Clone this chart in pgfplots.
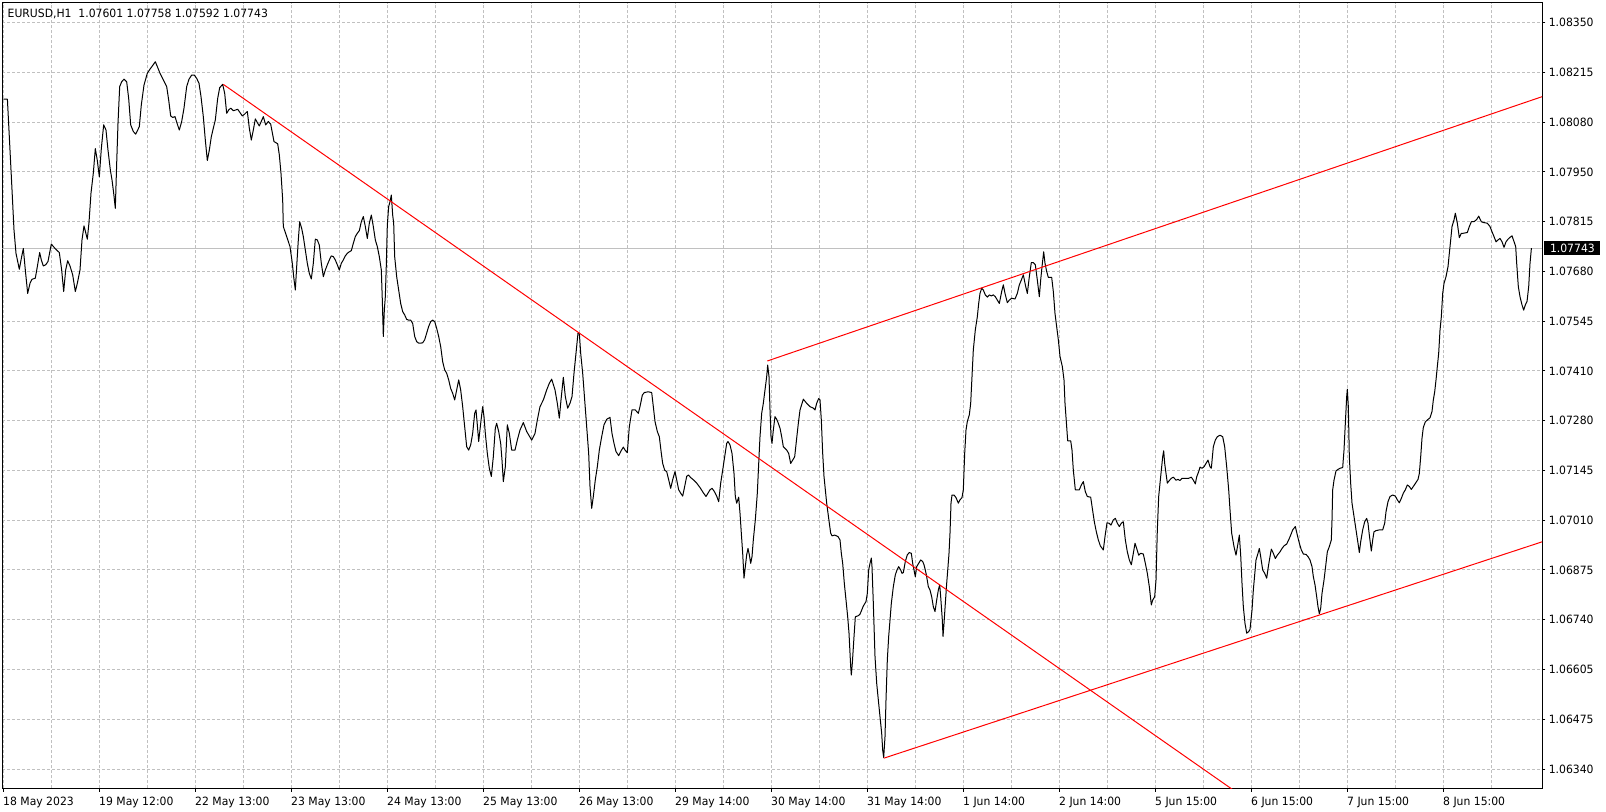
\documentclass[border=0pt]{standalone}
\usepackage{fontspec}
\setmainfont[FakeStretch=0.95]{DejaVu Sans}
\usepackage{pgfplots}
\pgfplotsset{compat=1.18}
\definecolor{gridgray}{RGB}{192,192,192}
\definecolor{pricegray}{RGB}{192,192,192}
\definecolor{mtred}{RGB}{255,0,0}
\begin{document}
\fontsize{5.7pt}{6.8pt}\selectfont
\begin{tikzpicture}
\path[use as bounding box] (-1.2pt,-11.75pt) rectangle (801.8pt,394.25pt);
\begin{axis}[
  at={(0,0)}, anchor=south west,
  scale only axis,
  width=769.9pt, height=392.9pt,
  xmin=-0.25, xmax=384.7,
  ymin=1.062875, ymax=1.08404,
  axis line style={line width=0.6pt, black},
  xtick={0,24,...,360},
  xticklabels={18 May 2023,19 May 12:00,22 May 13:00,23 May 13:00,24 May 13:00,25 May 13:00,26 May 13:00,29 May 14:00,30 May 14:00,31 May 14:00,1 Jun 14:00,2 Jun 14:00,5 Jun 15:00,6 Jun 15:00,7 Jun 15:00,8 Jun 15:00},
  minor xtick={12,36,...,384},
  ytick={1.0634,1.06474,1.06608,1.06742,1.06876,1.0701,1.07144,1.07278,1.07412,1.07546,1.0768,1.07814,1.07948,1.08082,1.08216,1.0835},
  yticklabels={1.06340,1.06475,1.06605,1.06740,1.06875,1.07010,1.07145,1.07280,1.07410,1.07545,1.07680,1.07815,1.07950,1.08080,1.08215,1.08350},
  xtick pos=bottom, ytick pos=right, yticklabel pos=right,
  tick align=outside,
  major tick length=1.6pt, minor tick length=0pt,
  tick style={black, line width=0.5pt},
  grid=both,
  major grid style={gridgray, dash pattern=on 1.5pt off 1pt, line width=0.5pt},
  minor grid style={gridgray, dash pattern=on 1.5pt off 1pt, line width=0.5pt},
  xticklabel style={anchor=north west, inner sep=0pt, yshift=-2.5pt, xshift=-0.3pt},
  yticklabel style={anchor=west, inner sep=0pt, xshift=1.5pt},
  clip=true,
]
\coordinate (nw) at (rel axis cs:0,1);
\coordinate (cp) at (axis cs:384.7,1.07743);
\addplot[pricegray, line width=0.5pt] coordinates {(-0.25,1.07743) (384.7,1.07743)};
\addplot[black, line width=0.5pt, line join=round] coordinates {
(0,1.08144)(1.0,1.08144)(1.48,1.08043)(2.07,1.07918)(2.65,1.07792)(3.15,1.07729)(3.98,1.07686)(4.57,1.07720)(4.98,1.07742)(5.48,1.07684)(6.07,1.07621)(6.65,1.07648)(7.15,1.07659)(7.98,1.07662)(8.48,1.07693)(9.07,1.07731)(9.48,1.07711)(9.98,1.07695)(10.57,1.07698)(11.15,1.07707)(11.98,1.07754)(12.9,1.07742)(13.98,1.07731)(14.57,1.07684)(15.07,1.07626)(15.57,1.07684)(16.07,1.07709)(16.65,1.07695)(17.32,1.07671)(17.98,1.07626)(18.48,1.07648)(19.15,1.07684)(19.65,1.07765)(20.15,1.07803)(20.57,1.07785)(20.98,1.07767)(21.4,1.07812)(21.9,1.07891)(22.48,1.07945)(22.98,1.08011)(23.48,1.07979)(23.98,1.07935)(24.48,1.08011)(25.07,1.08075)(25.65,1.08061)(26.15,1.08007)(26.73,1.07954)(27.15,1.07927)(27.57,1.07891)(27.98,1.07850)(28.32,1.07971)(28.65,1.08079)(29.07,1.08178)(29.57,1.08191)(30.15,1.08198)(30.82,1.08191)(31.32,1.08146)(31.82,1.08075)(32.48,1.08057)(33.07,1.08050)(33.57,1.08061)(33.98,1.08070)(34.48,1.08129)(35.15,1.08182)(35.98,1.08214)(36.65,1.08225)(37.4,1.08236)(37.98,1.08245)(38.48,1.08232)(39.15,1.08214)(39.98,1.08196)(40.82,1.08178)(41.32,1.08142)(41.82,1.08099)(42.32,1.08095)(42.9,1.08097)(43.48,1.08077)(43.98,1.08061)(44.57,1.08084)(45.15,1.08120)(45.82,1.08178)(46.4,1.08198)(47.07,1.08209)(47.73,1.08209)(48.32,1.08200)(48.9,1.08187)(49.4,1.08151)(49.98,1.08097)(50.48,1.08034)(50.98,1.07979)(51.48,1.08007)(51.98,1.08043)(52.48,1.08066)(52.98,1.08088)(53.57,1.08146)(54.07,1.08175)(54.82,1.08184)(55.32,1.08160)(55.82,1.08106)(56.32,1.08115)(56.82,1.08120)(57.48,1.08113)(58.07,1.08115)(58.57,1.08117)(59.15,1.08108)(59.73,1.08099)(60.32,1.08104)(60.98,1.08111)(61.48,1.08066)(61.98,1.08034)(62.48,1.08061)(62.98,1.08091)(63.48,1.08081)(63.98,1.08072)
(64.98,1.08097)(65.57,1.08075)(66.23,1.08084)(66.82,1.08077)(67.65,1.08030)(68.57,1.08024)(68.98,1.07994)(69.4,1.07944)(69.82,1.07873)
(69.98,1.07801)(70.82,1.07774)(71.65,1.07747)(72.23,1.07702)(72.57,1.07666)(72.98,1.07630)(73.32,1.07693)(73.73,1.07765)(74.07,1.07814)(74.57,1.07796)(74.98,1.07774)(75.48,1.07738)(75.98,1.07702)(76.48,1.07675)(76.98,1.07660)(77.48,1.07702)(77.98,1.07767)(78.48,1.07765)(78.98,1.07751)(79.48,1.07702)(79.98,1.07666)(80.48,1.07684)(80.98,1.07698)(81.48,1.07711)(81.98,1.07722)(82.48,1.07720)(82.98,1.07711)(83.48,1.07698)(83.98,1.07684)(84.48,1.07702)(84.98,1.07711)(85.48,1.07722)(85.98,1.07729)(86.48,1.07733)(86.98,1.07736)(87.48,1.07756)(87.98,1.07774)(88.48,1.07783)(88.98,1.07790)(89.48,1.07814)(89.98,1.07828)(90.48,1.07801)(90.98,1.07769)(91.48,1.07810)(91.98,1.07832)(92.48,1.07801)(92.98,1.07765)(93.48,1.07747)(93.98,1.07720)(94.48,1.07684)(94.73,1.07603)(94.98,1.07505)(95.23,1.07576)(95.48,1.07612)(95.73,1.07698)(95.98,1.07805)(96.32,1.07855)(96.65,1.07868)(96.98,1.07886)(97.32,1.07832)(97.57,1.07810)(97.82,1.07720)(98.32,1.07666)(98.82,1.07630)(99.32,1.07594)(99.82,1.07572)(100.32,1.07563)(100.82,1.07551)(101.32,1.07549)(101.82,1.07549)(102.32,1.07540)(102.82,1.07505)(103.32,1.07491)(103.82,1.07487)(104.32,1.07487)(104.82,1.07488)(105.32,1.07496)(105.82,1.07514)(106.32,1.07532)(106.82,1.07545)(107.32,1.07549)(107.82,1.07545)(108.32,1.07527)(108.82,1.07505)(109.32,1.07478)(109.82,1.07437)(110.32,1.07415)(110.82,1.07406)(111.32,1.07388)(111.82,1.07365)(112.32,1.07352)(112.82,1.07334)(113.32,1.07361)(113.82,1.07388)(114.32,1.07361)(114.82,1.07316)(115.32,1.07262)(115.82,1.07208)(116.32,1.07199)(116.82,1.07213)(117.32,1.07244)(117.82,1.07298)(118.15,1.07307)(118.48,1.07267)(118.82,1.07222)(119.32,1.07271)(119.82,1.07316)(120.15,1.07289)(120.48,1.07244)(120.98,1.07190)(121.48,1.07150)(121.98,1.07128)(122.48,1.07181)(122.98,1.07258)(123.32,1.07271)(123.82,1.07249)(124.32,1.07217)(124.65,1.07172)(124.98,1.07114)(125.48,1.07154)(125.98,1.07267)(126.48,1.07244)
(127.07,1.07199)(127.9,1.07199)(128.48,1.07226)(129.15,1.07253)(129.98,1.07273)(130.82,1.07249)(132.07,1.07226)(132.9,1.07244)(133.48,1.07280)(134.15,1.07316)(134.98,1.07334)(135.82,1.07361)(136.48,1.07379)(137.07,1.07390)(137.9,1.07361)(138.48,1.07325)(138.98,1.07285)(139.4,1.07334)(139.98,1.07395)(140.48,1.07343)(141.07,1.07312)(141.65,1.07325)(142.15,1.07343)(142.65,1.07406)(143.15,1.07460)(143.65,1.07514)(143.98,1.07514)(144.32,1.07460)(144.82,1.07406)(145.32,1.07334)(145.82,1.07262)(146.32,1.07190)(146.65,1.07101)(147.07,1.07042)(147.48,1.07074)(147.98,1.07119)(148.48,1.07154)(148.98,1.07199)(149.57,1.07235)(150.15,1.07267)(150.82,1.07282)(151.65,1.07287)(152.15,1.07244)(152.65,1.07217)(153.15,1.07195)(153.82,1.07184)(154.48,1.07198)(154.98,1.07207)(155.48,1.07198)(155.98,1.07192)(156.48,1.07262)(157.15,1.07307)(157.98,1.07307)(158.73,1.07298)(159.15,1.07316)(159.73,1.07347)(160.23,1.07354)(161.23,1.07356)(162.07,1.07354)(162.48,1.07316)(162.9,1.07276)(163.48,1.07249)(163.98,1.07235)(164.48,1.07190)(164.82,1.07163)(165.32,1.07145)(165.82,1.07141)(166.32,1.07119)(166.82,1.07096)(167.32,1.07119)(167.9,1.07141)(168.32,1.07119)(168.82,1.07092)(169.32,1.07083)(169.82,1.07075)(170.32,1.07101)(170.82,1.07128)(171.23,1.07132)(171.82,1.07125)(172.48,1.07119)(173.32,1.07110)(174.15,1.07098)(174.98,1.07084)(175.65,1.07074)(176.15,1.07083)(176.65,1.07092)(177.15,1.07096)(177.65,1.07089)(178.32,1.07075)(178.82,1.07060)(179.32,1.07110)(179.82,1.07145)(180.32,1.07181)(180.82,1.07217)(181.15,1.07222)(181.65,1.07213)(182.15,1.07190)(182.65,1.07136)(182.98,1.07074)(183.32,1.07056)(183.82,1.07072)(184.15,1.07029)(184.48,1.06975)(184.82,1.06921)(185.15,1.06854)(185.48,1.06885)(185.82,1.06917)(186.15,1.06934)(186.48,1.06917)(186.82,1.06894)(187.15,1.06912)(187.48,1.06957)(187.98,1.07011)(188.48,1.07083)(188.98,1.07199)
(189.15,1.07235)(189.57,1.07298)(189.98,1.07325)(190.4,1.07361)(190.82,1.07397)(191.07,1.07428)(191.4,1.07397)(191.65,1.07307)(191.9,1.07235)(192.15,1.07217)(192.48,1.07253)(192.9,1.07289)(193.32,1.07282)(193.73,1.07271)(194.15,1.07258)(194.57,1.07235)(194.98,1.07208)(195.82,1.07199)(196.32,1.07190)(196.82,1.07163)(197.32,1.07172)(197.82,1.07181)(198.32,1.07231)(198.73,1.07271)(199.15,1.07307)(199.98,1.07336)(200.82,1.07325)(201.65,1.07316)(202.48,1.07312)(202.9,1.07307)(203.32,1.07325)(203.82,1.07338)(204.15,1.07334)(204.48,1.07280)(204.82,1.07190)(205.15,1.07128)(205.48,1.07092)(205.82,1.07056)(206.15,1.07029)(206.48,1.07002)(206.82,1.06975)(207.15,1.06968)(207.82,1.06970)(208.65,1.06966)(209.15,1.06957)(209.48,1.06921)(209.82,1.06894)(210.23,1.06840)(210.65,1.06795)(211.07,1.06750)(211.4,1.06706)(211.82,1.06616)(211.98,1.06593)(212.23,1.06625)(212.65,1.06696)(212.98,1.06750)(213.73,1.06753)(214.15,1.06757)(214.57,1.06768)(214.98,1.06779)(215.65,1.06791)(215.98,1.06813)(216.32,1.06876)(216.65,1.06894)(216.98,1.06908)(217.15,1.06885)(217.48,1.06786)(217.9,1.06643)(218.32,1.06571)(218.73,1.06526)(219.15,1.06481)(219.57,1.06436)(219.82,1.06391)(220.07,1.06371)(220.4,1.06427)(220.65,1.06526)(220.98,1.06634)(221.32,1.06697)(221.65,1.06741)(221.98,1.06786)(222.48,1.06831)(222.98,1.06863)(223.4,1.06876)(223.82,1.06885)(224.32,1.06876)(224.65,1.06867)(224.98,1.06869)(225.48,1.06899)(225.98,1.06917)(226.48,1.06923)(226.98,1.06921)(227.32,1.06894)(227.65,1.06876)(227.98,1.06858)(228.32,1.06885)(228.82,1.06894)(229.32,1.06903)(229.82,1.06899)(230.15,1.06890)(230.48,1.06876)(230.82,1.06858)(231.23,1.06831)(231.65,1.06822)(232.07,1.06804)(232.48,1.06777)(232.9,1.06764)(233.32,1.06795)(233.73,1.06822)(234.07,1.06836)(234.32,1.06804)(234.73,1.06741)(234.9,1.06697)(235.15,1.06732)(235.48,1.06786)(235.82,1.06840)(236.15,1.06885)(236.4,1.06921)(236.65,1.06975)(236.9,1.07056)(237.15,1.07078)(237.65,1.07078)(238.15,1.07071)(238.73,1.07056)(239.15,1.07065)(239.65,1.07071)(239.98,1.07092)(240.32,1.07190)(240.65,1.07253)(240.98,1.07276)(241.48,1.07294)(241.82,1.07325)(242.15,1.07397)(242.48,1.07469)(242.98,1.07523)(243.48,1.07558)(243.82,1.07594)(244.15,1.07621)(244.57,1.07635)(244.98,1.07630)(245.48,1.07617)(245.98,1.07611)(246.48,1.07617)(246.98,1.07614)(247.48,1.07617)(247.98,1.07612)(248.48,1.07603)(248.98,1.07594)
(249.57,1.07626)(249.98,1.07644)(250.4,1.07621)(250.98,1.07596)(251.48,1.07603)(252.07,1.07608)(252.9,1.07606)(253.48,1.07621)(253.98,1.07644)(254.48,1.07657)(254.98,1.07671)(255.48,1.07644)(255.98,1.07621)(256.48,1.07666)(256.98,1.07704)(257.48,1.07704)(257.98,1.07698)(258.48,1.07657)(258.98,1.07612)(259.32,1.07657)(259.65,1.07693)(260.07,1.07733)(260.4,1.07702)(260.82,1.07680)(261.23,1.07664)(262.07,1.07664)(262.48,1.07626)(262.9,1.07567)(263.32,1.07531)(263.73,1.07496)(264.15,1.07451)(264.73,1.07424)(265.15,1.07388)(265.4,1.07325)(265.82,1.07262)(266.07,1.07224)(266.82,1.07224)(267.15,1.07199)(267.48,1.07145)(267.98,1.07092)(268.98,1.07092)(269.48,1.07105)(269.98,1.07114)(270.48,1.07087)(270.98,1.07074)(271.82,1.07072)(272.23,1.07042)(272.73,1.07006)(273.23,1.06979)(273.73,1.06957)(274.23,1.06941)(274.98,1.06930)(275.4,1.06966)(275.9,1.07003)(276.4,1.07002)(276.9,1.06997)(277.48,1.07011)(277.98,1.07015)(278.48,1.07002)(278.98,1.06993)(279.48,1.07002)(279.98,1.07006)(280.48,1.06957)(280.98,1.06925)(281.48,1.06903)(281.98,1.06890)(282.48,1.06921)(282.9,1.06948)(283.32,1.06934)(283.82,1.06916)(284.32,1.06921)(284.98,1.06919)(285.48,1.06894)(285.98,1.06867)(286.48,1.06831)(286.98,1.06782)(287.32,1.06795)(287.82,1.06804)(288.15,1.06849)(288.48,1.06984)(288.82,1.07074)(289.15,1.07110)(289.48,1.07145)(289.82,1.07181)(290.07,1.07197)(290.32,1.07163)(290.65,1.07136)(290.98,1.07110)(291.48,1.07117)(291.98,1.07123)(292.48,1.07126)(293.15,1.07118)(293.65,1.07120)(294.15,1.07117)(294.65,1.07123)(295.15,1.07123)(295.82,1.07123)(296.32,1.07123)(296.98,1.07126)(297.48,1.07118)(297.98,1.07108)(298.32,1.07127)(298.82,1.07141)(299.15,1.07153)(299.65,1.07150)(300.15,1.07154)(300.65,1.07163)(301.15,1.07172)(301.65,1.07154)(301.98,1.07150)(302.48,1.07208)(302.98,1.07226)(303.48,1.07235)(304.15,1.07239)(304.82,1.07235)(305.32,1.07208)(305.82,1.07154)(306.32,1.07092)(306.65,1.07038)(307.07,1.06975)(307.65,1.06939)(308.15,1.06916)(308.65,1.06948)(308.98,1.06970)(309.32,1.06916)(309.65,1.06840)(309.98,1.06777)(310.4,1.06732)(310.82,1.06706)(311.32,1.06710)(311.65,1.06716)(312.15,1.06768)(312.48,1.06822)
(313.15,1.06903)(313.65,1.06921)(313.98,1.06934)(314.32,1.06912)(314.82,1.06876)(315.32,1.06867)(315.82,1.06854)(316.23,1.06885)(316.65,1.06912)(316.98,1.06932)(317.48,1.06921)(317.98,1.06907)(318.48,1.06916)(319.15,1.06925)(319.65,1.06934)(320.15,1.06941)(320.82,1.06946)(321.32,1.06957)(321.82,1.06970)(322.32,1.06984)(322.98,1.06993)(323.48,1.06970)(323.98,1.06948)(324.48,1.06930)(324.98,1.06919)(325.65,1.06918)(326.15,1.06912)(326.65,1.06903)(327.15,1.06885)(327.48,1.06858)(327.9,1.06836)(328.32,1.06804)(328.65,1.06777)(328.98,1.06758)(329.32,1.06773)(329.65,1.06813)(330.15,1.06849)(330.65,1.06894)(330.98,1.06925)(331.48,1.06939)(331.98,1.06957)(332.15,1.07011)(332.32,1.07092)(332.65,1.07118)(333.15,1.07143)(333.65,1.07147)(334.15,1.07150)(334.82,1.07152)(335.15,1.07199)(335.48,1.07271)(335.82,1.07343)(335.98,1.07363)(336.23,1.07316)(336.48,1.07181)(336.82,1.07109)(337.15,1.07056)(337.65,1.07020)(338.15,1.06984)(338.65,1.06948)(338.98,1.06923)(339.32,1.06952)(339.82,1.06984)(340.32,1.07006)(340.82,1.07015)(341.15,1.07002)(341.48,1.06970)(341.98,1.06927)(342.32,1.06957)(342.65,1.06979)(343.15,1.06982)(343.98,1.06984)(344.82,1.06984)(345.32,1.07002)(345.65,1.07033)(346.15,1.07060)(346.65,1.07074)(347.32,1.07078)(347.98,1.07075)(348.48,1.07065)(348.98,1.07057)(349.48,1.07069)(349.98,1.07083)(350.48,1.07092)(350.98,1.07105)(351.48,1.07101)(351.98,1.07093)(352.48,1.07101)(352.98,1.07109)(353.65,1.07120)(353.98,1.07136)(354.32,1.07181)(354.65,1.07231)(354.98,1.07260)(355.48,1.07275)(355.98,1.07280)(356.65,1.07286)(357.15,1.07303)(357.48,1.07334)(357.82,1.07356)(358.15,1.07388)(358.48,1.07424)(358.82,1.07460)(359.15,1.07522)(359.48,1.07558)(359.82,1.07621)(360.15,1.07648)(360.65,1.07666)(361.15,1.07693)(361.48,1.07729)(361.82,1.07765)(362.15,1.07801)(362.65,1.07819)(362.98,1.07837)(363.48,1.07810)(363.98,1.07771)(364.48,1.07783)(364.98,1.07783)(365.98,1.07785)(366.48,1.07801)(366.98,1.07814)(367.65,1.07814)(368.32,1.07820)(368.82,1.07829)(369.48,1.07814)(369.98,1.07812)(370.98,1.07810)(371.65,1.07801)(372.15,1.07787)(372.65,1.07774)(373.15,1.07760)(373.65,1.07765)(374.15,1.07769)(374.65,1.07760)(375.15,1.07745)(375.65,1.07760)(376.15,1.07767)(376.65,1.07772)
(377.15,1.07776)(377.73,1.07758)(378.07,1.07747)(378.32,1.07702)(378.73,1.07639)(379.15,1.07612)(379.65,1.07590)(380.07,1.07576)(380.48,1.07590)(380.9,1.07599)(381.32,1.07639)(381.65,1.07702)(382,1.07743)
};
\addplot[mtred, line width=0.5pt] coordinates {(54.98,1.08184) (320,1.06189)};
\addplot[mtred, line width=0.5pt] coordinates {(190.98,1.07439) (384.7,1.08151)};
\addplot[mtred, line width=0.5pt] coordinates {(220.07,1.06369) (384.7,1.06952)};
\end{axis}
\node[anchor=north west, inner sep=0pt] at ([xshift=2.45pt,yshift=-2.8pt]nw) {EURUSD,H1\ \ 1.07601 1.07758 1.07592 1.07743};
\node[anchor=west, fill=black, text=white, inner xsep=2.8pt, inner ysep=0pt, minimum height=7pt] at ([xshift=0.9pt]cp) {1.07743};
\end{tikzpicture}
\end{document}
